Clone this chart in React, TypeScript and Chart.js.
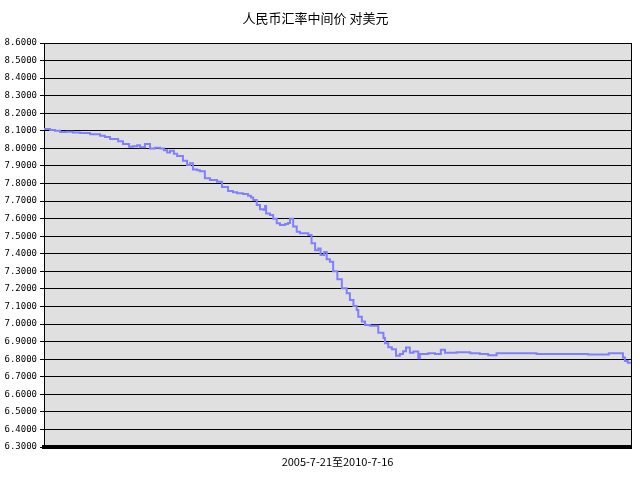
import React, { useEffect, useRef } from "react";
import { Chart, registerables } from "chart.js";

Chart.register(...registerables);

const chartTitle = "人民币汇率中间价 对美元";
const xAxisLabel = "2005-7-21至2010-7-16";
const startDate = "2005-7-21";
const totalDays = 1821;

// days since 2005-7-21
const dayOffsets = [
  0, 9, 19, 34, 50, 68, 90, 112, 143, 174, 189, 205, 230, 245, 264, 276, 289, 298, 313, 329,
  344, 360, 372, 382, 391, 403, 413, 431, 444, 453, 462, 475, 484, 499, 515, 537, 552, 571, 586, 599,
  617, 633, 642, 649, 660, 670, 680, 686, 689, 701, 711, 722, 732, 748, 757, 763, 773, 784, 794, 810,
  820, 830, 841, 851, 858, 869, 877, 887, 897, 910, 924, 939, 949, 960, 970, 975, 986, 996, 1011, 1027,
  1037, 1053, 1058, 1068, 1079, 1084, 1092, 1104, 1114, 1123, 1135, 1146, 1161, 1166, 1192, 1213, 1231, 1244, 1280, 1322,
  1352, 1378, 1404, 1446, 1487, 1528, 1632, 1685, 1688, 1747, 1752, 1790, 1796, 1802, 1811, 1821,
];

const rates = [
  8.11, 8.11, 8.105, 8.1, 8.093, 8.095, 8.09, 8.088, 8.08, 8.072, 8.065, 8.053, 8.04, 8.025, 8.01, 8.012, 8.018, 8.006, 8.025, 8.0,
  8.003, 8.0, 7.99, 7.976, 7.987, 7.97, 7.957, 7.93, 7.906, 7.915, 7.88, 7.875, 7.87, 7.83, 7.82, 7.81, 7.78, 7.758, 7.75, 7.745,
  7.74, 7.73, 7.72, 7.706, 7.678, 7.653, 7.65, 7.672, 7.63, 7.621, 7.6, 7.574, 7.564, 7.57, 7.575, 7.6, 7.555, 7.526, 7.517, 7.517,
  7.507, 7.46, 7.42, 7.43, 7.393, 7.41, 7.369, 7.355, 7.3, 7.255, 7.204, 7.175, 7.137, 7.103, 7.08, 7.042, 7.014, 6.995, 6.99, 6.99,
  6.95, 6.92, 6.89, 6.868, 6.857, 6.857, 6.819, 6.83, 6.845, 6.866, 6.837, 6.843, 6.805, 6.83, 6.834, 6.83, 6.853, 6.837, 6.839, 6.834,
  6.83, 6.822, 6.834, 6.834, 6.834, 6.83, 6.83, 6.83, 6.826, 6.826, 6.834, 6.834, 6.81, 6.79, 6.78, 6.777,
];

const yMin = 6.3;
const yMax = 8.6;
const yStep = 0.1;

const plotBg = {
  id: "plotBg",
  beforeDraw(chart: any) {
    const { ctx, chartArea } = chart;
    ctx.save();
    ctx.fillStyle = "#e0e0e0";
    ctx.fillRect(chartArea.left, chartArea.top, chartArea.right - chartArea.left, chartArea.bottom - chartArea.top);
    ctx.restore();
  },
  afterDraw(chart: any) {
    const { ctx, chartArea } = chart;
    ctx.save();
    ctx.strokeStyle = "#000";
    ctx.lineWidth = 1;
    ctx.beginPath();
    ctx.moveTo(Math.round(chartArea.right) + 0.5, chartArea.top);
    ctx.lineTo(Math.round(chartArea.right) + 0.5, chartArea.bottom);
    ctx.stroke();
    ctx.restore();
  },
};

export default function App() {
  const ref = useRef<HTMLCanvasElement>(null);
  useEffect(() => {
    if (!ref.current) return;
    const data = dayOffsets.map((d, i) => ({ x: d, y: rates[i] }));
    const chart = new Chart(ref.current, {
      type: "line",
      data: {
        datasets: [
          {
            label: startDate,
            data,
            borderColor: "#8080ff",
            borderWidth: 2,
            pointRadius: 0,
            stepped: true,
            fill: false,
          },
        ],
      },
      options: {
        animation: false,
        responsive: false,
        layout: { padding: { left: 0, right: 9, top: 0, bottom: 0 } },
        plugins: {
          legend: { display: false },
          tooltip: { enabled: false },
          title: {
            display: true,
            text: chartTitle,
            color: "#000",
            font: { family: "'Noto Sans CJK SC', sans-serif", size: 13, weight: "normal" },
            padding: { top: 10, bottom: 17.4 },
          },
        },
        scales: {
          x: {
            type: "linear",
            min: 0,
            max: totalDays,
            ticks: { display: false },
            grid: { display: false },
            border: { display: true, color: "#000", width: 4 },
            title: {
              display: true,
              text: xAxisLabel,
              color: "#000",
              font: { family: "'Noto Sans CJK SC', sans-serif", size: 11 },
              padding: { top: 0, bottom: 12 },
            },
            afterFit(scale: any) {
              scale.height = 33;
            },
          },
          y: {
            min: yMin,
            max: yMax,
            ticks: {
              stepSize: yStep,
              color: "#000",
              padding: 3,
              font: { family: "'DejaVu Sans Mono', monospace", size: 9 },
              callback: (v: any) => Number(v).toFixed(4),
            },
            grid: { color: "#000", lineWidth: 1, tickLength: 4 },
            border: { display: true, color: "#000", width: 1 },
            afterFit(scale: any) {
              scale.width = 44;
            },
          },
        },
      },
      plugins: [plotBg],
    });
    return () => chart.destroy();
  }, []);
  return (
    <div style={{ position: "absolute", left: 0, top: 0, width: 640, height: 480, background: "#fff" }}>
      <canvas ref={ref} width={640} height={480} style={{ display: "block" }} />
    </div>
  );
}
